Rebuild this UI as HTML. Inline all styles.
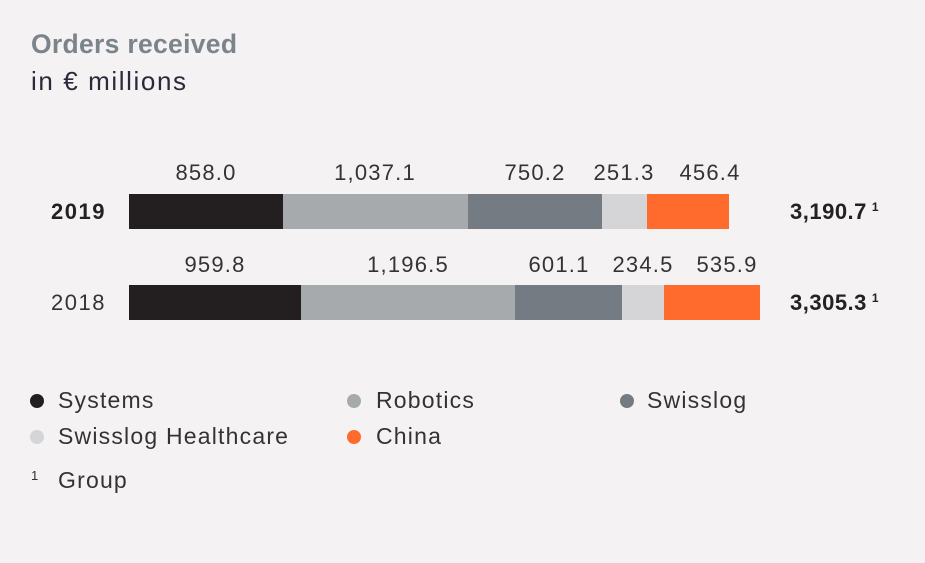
<!DOCTYPE html>
<html><head><meta charset="utf-8"><style>
body{margin:0;width:925px;height:563px;background:#f4f2f3;font-family:"Liberation Sans",sans-serif;position:relative;overflow:hidden;color:#2a2a2a}
div{position:absolute;white-space:nowrap}
.b{height:35px}
.l{font-size:22px;color:#333;transform:translateX(-50%);top:0;letter-spacing:1.2px}
.t{font-size:22px;font-weight:bold;color:#222;letter-spacing:0.5px}
.t sup{font-size:12px;font-weight:bold;vertical-align:8px;margin-left:5px}
.dot{width:14px;height:14px;border-radius:50%}
.lg{font-size:23px;color:#333;letter-spacing:1.2px}
</style></head><body>
<div style="left:31px;top:29px;font-size:26.5px;font-weight:bold;color:#7b838b;letter-spacing:0.3px">Orders received</div>
<div style="left:31px;top:66px;font-size:26px;color:#2a2a3a;letter-spacing:1.6px">in € millions</div>

<div class="l" style="left:206px;top:160px">858.0</div>
<div class="l" style="left:375px;top:160px">1,037.1</div>
<div class="l" style="left:535px;top:160px">750.2</div>
<div class="l" style="left:624px;top:160px">251.3</div>
<div class="l" style="left:710px;top:160px">456.4</div>
<div style="left:51px;top:199px;font-size:22px;font-weight:bold;color:#222;letter-spacing:1.5px">2019</div>
<div class="b" style="left:129px;top:194px;width:154px;background:#231f20"></div>
<div class="b" style="left:283px;top:194px;width:185px;background:#a7aaad"></div>
<div class="b" style="left:468px;top:194px;width:134px;background:#747b82"></div>
<div class="b" style="left:602px;top:194px;width:45px;background:#d5d5d7"></div>
<div class="b" style="left:647px;top:194px;width:82px;background:#ff6b2c"></div>
<div class="t" style="left:790px;top:199px">3,190.7<sup>1</sup></div>

<div class="l" style="left:215px;top:252px">959.8</div>
<div class="l" style="left:408px;top:252px">1,196.5</div>
<div class="l" style="left:559px;top:252px">601.1</div>
<div class="l" style="left:643px;top:252px">234.5</div>
<div class="l" style="left:727px;top:252px">535.9</div>
<div style="left:51px;top:290px;font-size:22px;color:#333;letter-spacing:1.5px">2018</div>
<div class="b" style="left:129px;top:285px;width:172px;background:#231f20"></div>
<div class="b" style="left:301px;top:285px;width:214px;background:#a7aaad"></div>
<div class="b" style="left:515px;top:285px;width:107px;background:#747b82"></div>
<div class="b" style="left:622px;top:285px;width:42px;background:#d5d5d7"></div>
<div class="b" style="left:664px;top:285px;width:96px;background:#ff6b2c"></div>
<div class="t" style="left:790px;top:290px">3,305.3<sup>1</sup></div>

<div class="dot" style="left:30px;top:394px;background:#231f20"></div><div class="lg" style="left:58px;top:387px">Systems</div>
<div class="dot" style="left:347px;top:394px;background:#a7aaad"></div><div class="lg" style="left:376px;top:387px">Robotics</div>
<div class="dot" style="left:620px;top:394px;background:#747b82"></div><div class="lg" style="left:647px;top:387px">Swisslog</div>
<div class="dot" style="left:30px;top:430px;background:#d5d5d7"></div><div class="lg" style="left:58px;top:423px">Swisslog Healthcare</div>
<div class="dot" style="left:347px;top:430px;background:#ff6b2c"></div><div class="lg" style="left:376px;top:423px">China</div>
<div style="left:31px;top:468px;font-size:13px;color:#333">1</div><div class="lg" style="left:58px;top:467px">Group</div>
</body></html>
